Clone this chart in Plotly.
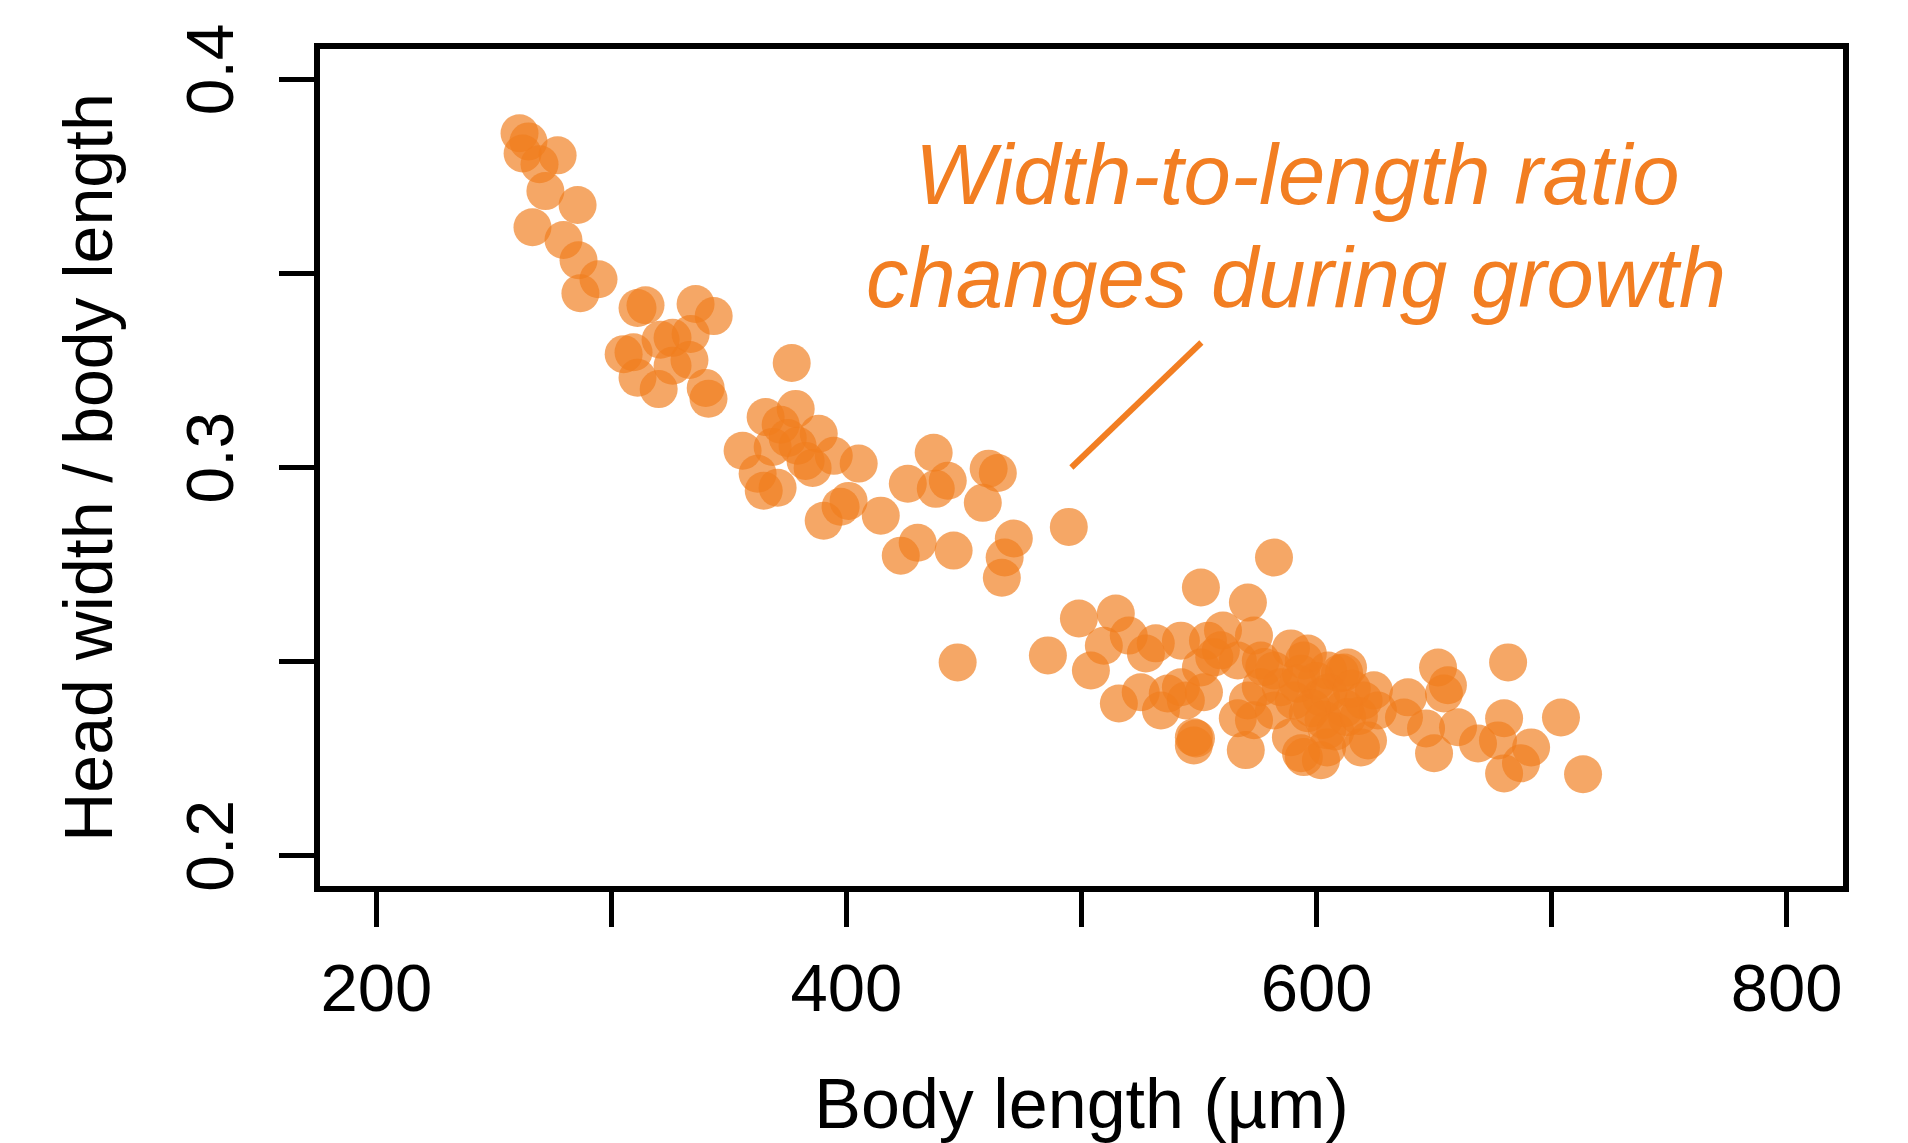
import plotly.graph_objects as go

body_length = [
    260.9, 264.7, 262.2, 277.1, 269.4, 271.9, 285.6, 266.4, 279.6, 286.0, 294.5, 286.8,
    311.1, 314.5, 335.8, 343.5, 326.0, 320.9, 333.7, 333.2, 305.2, 309.4, 311.1, 326.0, 320.1, 340.1, 341.3, 376.7,
    365.6, 378.4, 372.0, 388.2, 355.8, 368.6, 379.2, 375.0, 394.6, 405.2, 362.2, 364.8, 370.7, 385.6, 382.6,
    390.3, 397.5, 400.9, 414.6, 437.1, 426.1, 443.1, 438.0, 460.5, 464.4, 458.0, 423.1, 430.3, 445.6,
    471.2, 467.3, 466.1, 494.6, 447.3, 485.7,
    581.9, 550.8, 570.8, 498.9, 514.6, 520.1, 509.5, 504.0, 527.4, 531.6, 542.3, 553.8, 560.2, 573.4,
    589.1, 594.6, 550.8, 559.3, 566.5, 576.3, 581.9, 593.4, 515.9, 525.2, 533.8, 536.7, 542.3, 544.4,
    552.1, 547.8, 547.8, 566.5, 570.8, 573.4, 569.9, 581.9, 589.1, 594.6, 590.4, 596.3, 576.3, 584.8,
    681.5, 651.7, 655.9, 654.2, 638.9, 637.2, 646.6, 660.2, 650.0, 668.7, 679.8, 677.2, 679.8, 687.0,
    691.3, 624.4, 626.1, 621.9, 613.4, 604.9, 596.3, 618.9, 601.9, 593.4, 704.0, 713.4,
    611.7, 604.5, 613.0, 604.5, 601.9, 592.0, 556.5, 577.8, 548.7, 600.0, 605.0, 610.0, 612.0, 598.0,
    615.0, 603.0, 608.0, 618.0, 620.0,
]
ratio = [
    0.3861, 0.3840, 0.3809, 0.3804, 0.3781, 0.3712, 0.3676, 0.3619, 0.3586, 0.3534, 0.3485, 0.3449,
    0.3411, 0.3418, 0.3421, 0.3390, 0.3334, 0.3329, 0.3344, 0.3277, 0.3292, 0.3297, 0.3231, 0.3262, 0.3202, 0.3205, 0.3177, 0.3269,
    0.3130, 0.3151, 0.3110, 0.3087, 0.3043, 0.3053, 0.3056, 0.3076, 0.3030, 0.3010, 0.2984, 0.2940, 0.2948, 0.2999, 0.3017,
    0.2863, 0.2899, 0.2914, 0.2876, 0.3038, 0.2958, 0.2966, 0.2945, 0.2997, 0.2986, 0.2909, 0.2773, 0.2806, 0.2786,
    0.2817, 0.2768, 0.2716, 0.2847, 0.2498, 0.2516,
    0.2768, 0.2691, 0.2652, 0.2611, 0.2624, 0.2567, 0.2541, 0.2477, 0.2521, 0.2547, 0.2554, 0.2554, 0.2580, 0.2567,
    0.2534, 0.2503, 0.2485, 0.2529, 0.2503, 0.2503, 0.2477, 0.2469, 0.2392, 0.2421, 0.2374, 0.2418, 0.2434, 0.2400,
    0.2421, 0.2305, 0.2284, 0.2354, 0.2400, 0.2349, 0.2272, 0.2374, 0.2305, 0.2254, 0.2400, 0.2367, 0.2434, 0.2434,
    0.2498, 0.2485, 0.2439, 0.2418, 0.2408, 0.2356, 0.2328, 0.2331, 0.2264, 0.2289, 0.2354, 0.2297, 0.2212, 0.2238,
    0.2279, 0.2426, 0.2374, 0.2297, 0.2485, 0.2477, 0.2521, 0.2279, 0.2246, 0.2264, 0.2356, 0.2210,
    0.2472, 0.2279, 0.2357, 0.2323, 0.2408, 0.2443, 0.2511, 0.2486, 0.2302, 0.2450, 0.2420, 0.2470, 0.2380, 0.2380,
    0.2430, 0.2350, 0.2320, 0.2360, 0.2400,
]

x_ticks = [200, 300, 400, 500, 600, 700, 800]
x_tick_labels = ["200", "", "400", "", "600", "", "800"]
y_ticks = [0.20, 0.25, 0.30, 0.35, 0.40]
y_tick_labels = ["0.2", "", "0.3", "", "0.4"]

note_lines = ["Width-to-length ratio", "changes during growth"]
note_x = [592.0, 591.2]
note_y = [0.3754, 0.3490]
pointer_x = [495.7, 551.0]
pointer_y = [0.300, 0.3322]

ORANGE = "#F27E22"
FONT = "Liberation Sans, Arial, Helvetica, sans-serif"

fig = go.Figure()
fig.add_trace(go.Scatter(
    x=body_length, y=ratio, mode="markers",
    marker=dict(size=38, color="rgba(240,125,30,0.68)", line=dict(width=0)),
    hoverinfo="skip", showlegend=False,
))
fig.add_trace(go.Scatter(
    x=pointer_x, y=pointer_y, mode="lines",
    line=dict(color=ORANGE, width=6), hoverinfo="skip", showlegend=False,
))

for txt, xx, yy in zip(note_lines, note_x, note_y):
    fig.add_annotation(x=xx, y=yy, xref="x", yref="y", text=f"<i>{txt}</i>",
                       showarrow=False, xanchor="center", yanchor="middle",
                       font=dict(family=FONT, size=85, color=ORANGE))

fig.update_layout(
    width=1908, height=1143,
    margin=dict(l=320, r=65, t=49, b=257, autoexpand=False),
    plot_bgcolor="white", paper_bgcolor="white",
    font=dict(family=FONT, color="black"),
)
fig.update_xaxes(
    range=[176, 824], tickvals=x_ticks, ticktext=x_tick_labels,
    showgrid=False, zeroline=False, automargin=False,
    showline=True, mirror=True, linecolor="black", linewidth=6,
    ticks="outside", ticklen=35, tickwidth=4.5, tickcolor="black",
    tickfont=dict(size=67, family=FONT), ticklabelstandoff=4,
    title=dict(text="Body length (µm)", font=dict(size=70, family=FONT), standoff=62),
)
fig.update_yaxes(
    range=[0.1922, 0.4078], tickvals=y_ticks, ticktext=y_tick_labels,
    showgrid=False, zeroline=False, automargin=False,
    showline=True, mirror=True, linecolor="black", linewidth=6,
    ticks="outside", ticklen=35, tickwidth=4.5, tickcolor="black",
    tickangle=-90, tickfont=dict(size=66, family=FONT), ticklabelstandoff=20,
    title=dict(text="Head width / body length", font=dict(size=68, family=FONT), standoff=40),
)

fig.write_html("out.html")
